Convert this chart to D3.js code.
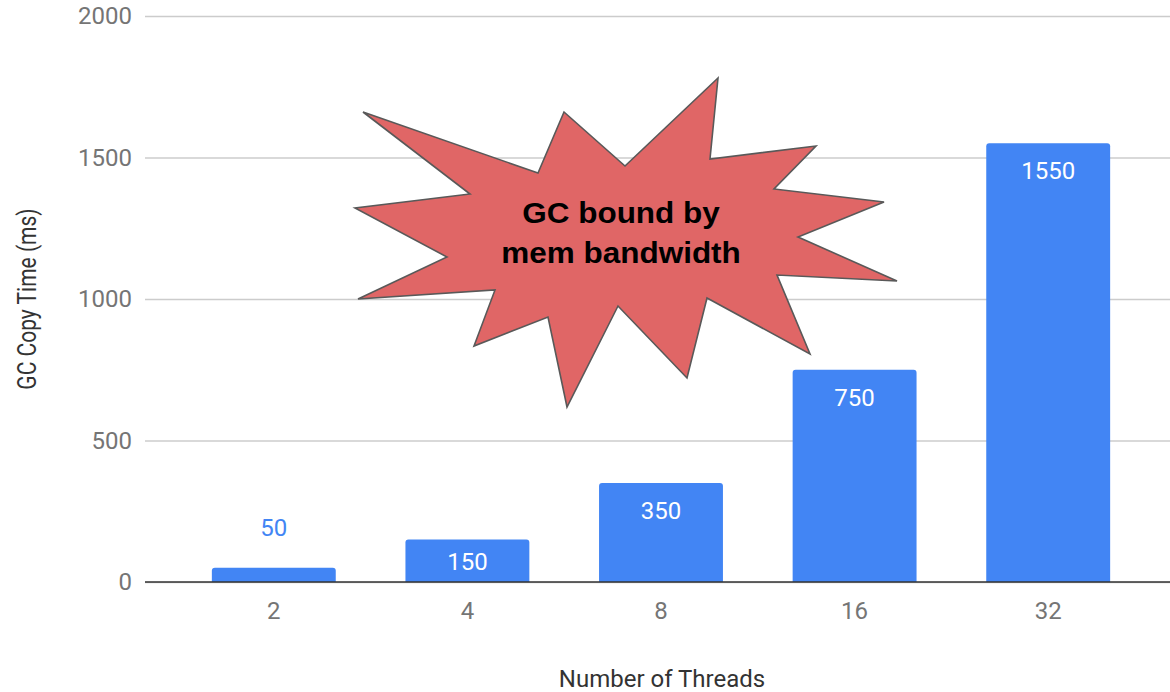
<!DOCTYPE html>
<html>
<head>
<meta charset="utf-8">
<script src="https://cdn.jsdelivr.net/npm/d3@7"></script>
<style>
  html, body { margin: 0; padding: 0; background: #fff; }
  svg { display: block; }
</style>
</head>
<body>
<svg id="chart" width="1170" height="692"></svg>
<script>
// Thread counts and measured GC copy time
const threads = ["2", "4", "8", "16", "32"];
const copyTimeMs = [50, 150, 350, 750, 1550];
const yTicks = [0, 500, 1000, 1500, 2000];

// Callout burst outline, as offsets from its centre (px)
const burstOutline = [
  [-258, -88], [-83, -27], [-57, -88], [4, -34], [97, -122], [89, -41],
  [195, -54], [153, -11], [263, 2], [177, 37], [276, 81], [156, 75],
  [189, 154], [86, 98], [66, 178], [-3, 106], [-54, 207], [-73, 117],
  [-147, 146], [-126, 90], [-263, 99], [-174, 57], [-266, 8], [-151, -6]
];
const burstLines = ["GC bound by", "mem bandwidth"];

const svg = d3.select("#chart");
const plotLeft = 145, plotRight = 1170, plotTop = 16, plotBottom = 582;

const x = d3.scaleBand()
  .domain(threads)
  .range([177, 1145])
  .paddingInner(0.36)
  .paddingOuter(0.18);

const y = d3.scaleLinear()
  .domain([0, 2000])
  .range([plotBottom, plotTop]);

const tickColor = "#757575";
const font = "Roboto, 'Open Sans', Arial, sans-serif";

// Horizontal gridlines with value labels
const yAxis = d3.axisLeft(y)
  .tickValues(yTicks)
  .tickFormat(d3.format("d"))
  .tickSize(-(plotRight - plotLeft))
  .tickPadding(13);

const gy = svg.append("g")
  .attr("transform", `translate(${plotLeft},0)`)
  .call(yAxis);
gy.select(".domain").remove();
gy.selectAll(".tick line")
  .attr("stroke", "#cccccc")
  .attr("stroke-width", 1.3);
gy.selectAll(".tick text")
  .attr("fill", tickColor)
  .attr("font-family", font)
  .attr("font-size", 24);

// Category labels under the bars
const xAxis = d3.axisBottom(x).tickSize(0).tickPadding(20);
const gx = svg.append("g")
  .attr("transform", `translate(0,${plotBottom})`)
  .call(xAxis);
gx.select(".domain").remove();
gx.selectAll(".tick text")
  .attr("fill", tickColor)
  .attr("font-family", font)
  .attr("font-size", 24);

// Bars with rounded top corners
const r = 3;
function barPath(d, i) {
  const x0 = x(threads[i]), w = x.bandwidth();
  const top = y(d), bot = y(0);
  return `M${x0},${bot} V${top + r} Q${x0},${top} ${x0 + r},${top} H${x0 + w - r} Q${x0 + w},${top} ${x0 + w},${top + r} V${bot} Z`;
}
svg.append("g")
  .selectAll("path")
  .data(copyTimeMs)
  .join("path")
  .attr("d", barPath)
  .attr("fill", "#4285f4");

// Value labels: inside the bar when it is tall enough, above otherwise
const fitsInside = d => y(0) - y(d) > 30;
svg.append("g")
  .selectAll("text")
  .data(copyTimeMs)
  .join("text")
  .attr("x", (d, i) => x(threads[i]) + x.bandwidth() / 2)
  .attr("y", d => fitsInside(d)
    ? Math.min(y(d) + 36, (y(d) + y(0)) / 2 + 9)
    : y(d) - 32)
  .attr("text-anchor", "middle")
  .attr("font-family", font)
  .attr("font-size", 24)
  .attr("fill", d => fitsInside(d) ? "#ffffff" : "#4285f4")
  .text(d => d);

// Zero baseline
svg.append("line")
  .attr("x1", plotLeft).attr("x2", plotRight)
  .attr("y1", y(0)).attr("y2", y(0))
  .attr("stroke", "#333333")
  .attr("stroke-width", 1.6);

// Axis titles
svg.append("text")
  .attr("x", 662).attr("y", 687)
  .attr("text-anchor", "middle")
  .attr("font-family", font)
  .attr("font-size", 24)
  .attr("fill", "#333")
  .text("Number of Threads");

svg.append("text")
  .attr("transform", `translate(36,${(plotTop + plotBottom) / 2}) rotate(-90) scale(1,1.2)`)
  .attr("text-anchor", "middle")
  .attr("font-family", font)
  .attr("font-size", 21)
  .attr("fill", "#333")
  .text("GC Copy Time (ms)");

// Callout burst
const burstCx = 621, burstCy = 200;
const burst = svg.append("g").attr("transform", `translate(${burstCx},${burstCy})`);
burst.append("path")
  .attr("d", d3.line()(burstOutline) + "Z")
  .attr("fill", "#e06666")
  .attr("stroke", "#595959")
  .attr("stroke-width", 1.6)
  .attr("stroke-linejoin", "miter");
burst.append("g")
  .attr("transform", "scale(1.05,1)")
  .selectAll("text")
  .data(burstLines)
  .join("text")
  .attr("x", 0)
  .attr("y", (d, i) => 23 + i * 40)
  .attr("text-anchor", "middle")
  .attr("font-family", "'Liberation Sans', Arial, sans-serif")
  .attr("font-weight", "bold")
  .attr("font-size", 30)
  .attr("fill", "#000")
  .text(d => d);
</script>
</body>
</html>
